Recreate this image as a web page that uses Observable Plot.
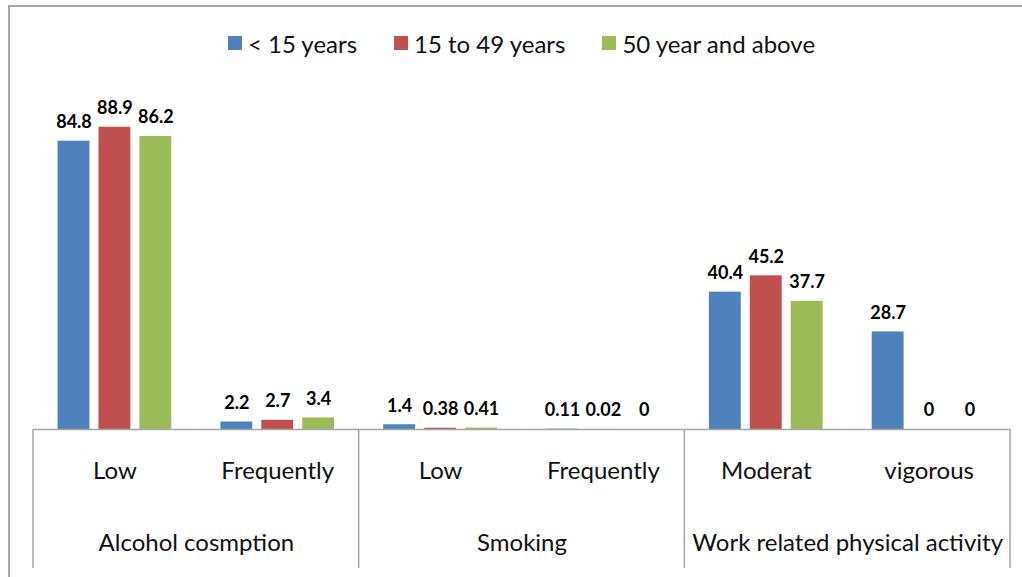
<!DOCTYPE html>
<html><head><meta charset="utf-8">
<script src="https://cdn.jsdelivr.net/npm/d3@7"></script>
<script src="https://cdn.jsdelivr.net/npm/@observablehq/plot@0.6"></script>
<style>
body{margin:0;background:#fff;}
#wrap{position:relative;width:1022px;height:577px;overflow:hidden;font-family:Lato,sans-serif;background:#fff;}
#border{position:absolute;left:8px;top:5px;right:-10px;bottom:-10px;border-left:2px solid #a6a6a6;border-top:2px solid #a6a6a6;}
#legend{position:absolute;top:8px;left:33px;width:977px;height:70px;display:flex;justify-content:center;align-items:center;gap:37px;font-size:24px;color:#111;}
#legend .item{display:flex;align-items:center;gap:6px;}
#legend .sw{width:14px;height:14px;display:inline-block;}
#chart{position:absolute;top:70px;left:0;}
</style></head>
<body><div id="wrap"><div id="border"></div><div id="legend"></div><div id="chart"></div></div>
<script>
const groups = ["Alcohol cosmption","Alcohol cosmption","Smoking","Smoking","Work related physical activity","Work related physical activity"];
const categories = ["Low","Frequently","Low","Frequently","Moderat","vigorous"];
const series = ["< 15 years","15 to 49 years","50 year and above"];
const under15 = [84.8, 2.2, 1.4, 0.11, 40.4, 28.7];
const age15to49 = [88.9, 2.7, 0.38, 0.02, 45.2, 0];
const age50plus = [86.2, 3.4, 0.41, 0, 37.7, 0];
const colors = ["#4f81bd","#c0504d","#9bbb59"];

const seriesValues = [under15, age15to49, age50plus];
const keys = categories.map((c,i)=>groups[i]+"|"+c);
const rows = [];
keys.forEach((k,i)=>series.forEach((s,j)=>rows.push({key:k, series:s, value:seriesValues[j][i]})));
const catRows = keys.map((k,i)=>({key:k, cat:categories[i]}));
const groupRows = keys.map((k,i)=>({key:k, group:groups[i]})).filter((d,i)=>i===0 || groups[i]!==groups[i-1]);

// legend
const leg = document.getElementById("legend");
series.forEach((s,j)=>{
  const it=document.createElement("div");it.className="item";
  const sw=document.createElement("span");sw.className="sw";sw.style.background=colors[j];
  const t=document.createElement("span");t.textContent=s;
  it.appendChild(sw);it.appendChild(t);leg.appendChild(it);
});

const plot = Plot.plot({
  width: 1022, height: 507,
  marginTop: 19, marginBottom: 148, marginLeft: 33, marginRight: 12,
  style: {fontFamily: "Lato, sans-serif", background: "transparent", overflow: "visible"},
  fx: {domain: keys, padding: 0, axis: null, round: false},
  x: {domain: series, paddingInner: 0.22, paddingOuter: 0.6, axis: null, round: false},
  y: {domain: [0, 100], axis: null},
  color: {domain: series, range: colors},
  marks: [
    Plot.barY(rows, {fx: "key", x: "series", y: "value", fill: "series"}),
    Plot.ruleY([0], {stroke: "#a6a6a6", strokeWidth: 1.5}),
    Plot.text(rows, {fx: "key", x: "series", y: "value", text: d => String(d.value), dy: -19, fontWeight: "bold", fontSize: 18, fill: "#000"}),
    Plot.text(catRows, {fx: "key", text: "cat", frameAnchor: "bottom", lineAnchor: "middle", dy: 42, fontSize: 24, fill: "#111"}),
    Plot.text(groupRows, {fx: "key", text: "group", frameAnchor: "bottom-right", textAnchor: "middle", lineAnchor: "middle", dy: 114, fontSize: 24, fill: "#111"})
  ]
});
document.getElementById("chart").appendChild(plot);

// category axis separators using the library's facet and y scales
const fx = plot.scale("fx"), y = plot.scale("y");
const y0 = y.apply(0), y1 = 507 - 9;
const sepKeys = groupRows.map(d=>d.key);
const xs = sepKeys.map(k=>fx.apply(k));
xs.push(fx.apply(keys[keys.length-1]) + fx.bandwidth);
const svg = d3.select(plot.tagName.toLowerCase()==="svg" ? plot : plot.querySelector("svg"));
svg.append("g").selectAll("line").data(xs).join("line")
  .attr("x1", d=>d).attr("x2", d=>d).attr("y1", y0).attr("y2", y1)
  .attr("stroke", "#a6a6a6").attr("stroke-width", 1.5);
</script></body></html>
